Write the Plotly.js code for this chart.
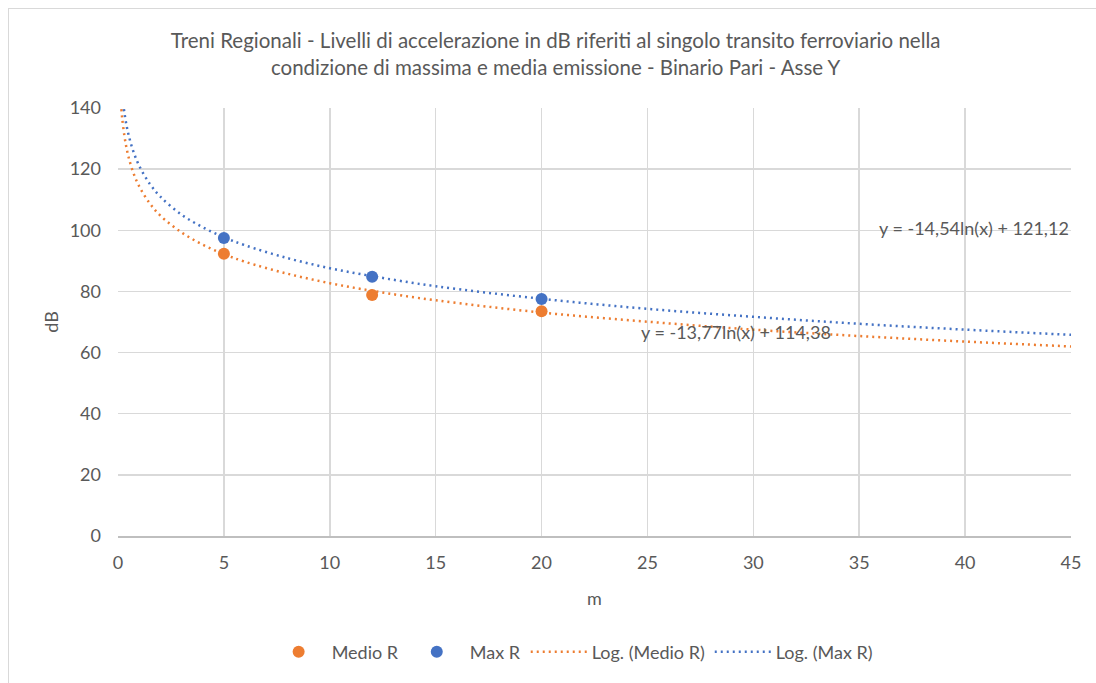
<!DOCTYPE html>
<html>
<head>
<meta charset="utf-8">
<script src="https://cdn.plot.ly/plotly-3.0.1.min.js"></script>
<style>
  html, body { margin: 0; padding: 0; background: #ffffff; }
  #wrap { position: relative; width: 1096px; height: 683px; overflow: hidden; }
  #chart { position: absolute; left: 0; top: 0; width: 1096px; height: 683px; }
  #frame { position: absolute; left: 8px; top: 8px; width: 1200px; height: 800px;
           border-top: 1px solid #d9d9d9; border-left: 1px solid #d9d9d9; pointer-events: none; }
</style>
</head>
<body>
<div id="wrap">
  <div id="chart"></div>
  <div id="frame"></div>
</div>
<script>
// Measured points
const distances = [5, 12, 20];
const medioR = [92.3, 78.8, 73.5];
const maxR = [97.5, 84.8, 77.5];

// Trendline curves
const logMedioX = [0.16, 0.2, 0.3, 0.4, 0.5, 0.7, 1, 1.5, 2, 3, 4, 5, 6, 8, 10, 12, 15, 20, 25, 30, 35, 40, 45];
const logMedioY = [139.6, 136.5, 131.0, 127.0, 123.9, 119.3, 114.4, 108.8, 104.8, 99.3, 95.3, 92.2, 89.7, 85.8, 82.7, 80.2, 77.1, 73.1, 70.1, 67.5, 65.4, 63.6, 62.0];
const logMaxX = [0.28, 0.3, 0.4, 0.5, 0.7, 1, 1.5, 2, 3, 4, 5, 6, 8, 10, 12, 15, 20, 25, 30, 35, 40, 45];
const logMaxY = [139.6, 138.6, 134.4, 131.2, 126.3, 121.1, 115.2, 111.0, 105.1, 101.0, 97.7, 95.1, 90.9, 87.6, 85.0, 81.7, 77.6, 74.3, 71.7, 69.4, 67.5, 65.8];

const eqMax = "y = -14,54ln(x) + 121,12";
const eqMedio = "y = -13,77ln(x) + 114,38";
const titleText = "Treni Regionali - Livelli di accelerazione in dB riferiti al singolo transito ferroviario nella<br>condizione di massima e media emissione - Binario Pari - Asse Y";

const ORANGE = "#ED7D31";
const BLUE = "#4472C4";
const TXT = "#595959";
const FONT = "Lato, 'Open Sans', sans-serif";

const traces = [
  { x: distances, y: medioR, name: "Medio R", type: "scatter", mode: "markers",
    marker: { color: ORANGE, size: 12 } },
  { x: distances, y: maxR, name: "Max R", type: "scatter", mode: "markers",
    marker: { color: BLUE, size: 12 } },
  { x: logMedioX, y: logMedioY, name: "Log. (Medio R)", type: "scatter", mode: "lines",
    line: { color: ORANGE, width: 2.5, dash: "2px,4px", shape: "spline" } },
  { x: logMaxX, y: logMaxY, name: "Log. (Max R)", type: "scatter", mode: "lines",
    line: { color: BLUE, width: 2.5, dash: "2px,4px", shape: "spline" } }
];

const layout = {
  width: 1096, height: 683,
  paper_bgcolor: "rgba(0,0,0,0)", plot_bgcolor: "#ffffff",
  margin: { l: 118, r: 25, t: 108, b: 143 },
  font: { family: FONT, color: TXT, size: 18 },
  title: { text: titleText, x: 0.507, xref: "container", xanchor: "center",
           y: 0.929, yref: "container", yanchor: "middle",
           font: { family: FONT, size: 20.5, color: TXT } },
  xaxis: { range: [0, 45], dtick: 5, tick0: 0, showgrid: true, gridcolor: "#d9d9d9", gridwidth: 1.5,
           zeroline: false, showline: true, linecolor: "#bfbfbf", linewidth: 1.5, ticks: "",
           ticklabelstandoff: 10,
           tickfont: { size: 18, color: TXT }, fixedrange: true,
           title: { text: "m", font: { size: 18, color: TXT }, standoff: 20 } },
  yaxis: { range: [0, 140], dtick: 20, tick0: 0, showgrid: true, gridcolor: "#d9d9d9", gridwidth: 1.5,
           zeroline: false, showline: false, ticks: "", ticklabelstandoff: 16,
           tickfont: { size: 18, color: TXT }, fixedrange: true,
           title: { text: "dB", font: { size: 18, color: TXT }, standoff: 6 } },
  showlegend: true,
  legend: { orientation: "h", x: 0.476, xanchor: "center", y: -0.271, yanchor: "middle",
            font: { size: 18, color: TXT }, itemwidth: 56, traceorder: "normal" },
  annotations: [
    { x: 40.4, y: 100.8, xref: "x", yref: "y", text: eqMax, showarrow: false,
      font: { size: 18, color: TXT } },
    { x: 29.2, y: 66.8, xref: "x", yref: "y", text: eqMedio, showarrow: false,
      font: { size: 18, color: TXT } }
  ]
};

Plotly.newPlot("chart", traces, layout, { displayModeBar: false, staticPlot: true });
</script>
</body>
</html>
